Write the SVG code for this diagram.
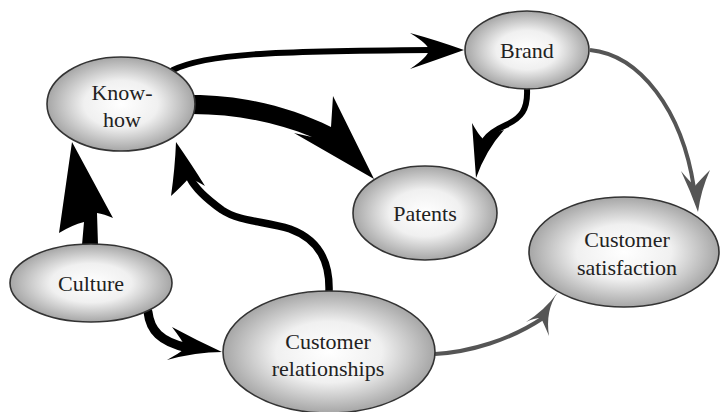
<svg xmlns="http://www.w3.org/2000/svg" width="720" height="412" viewBox="0 0 720 412">
<defs>
<radialGradient id="g" cx="50%" cy="50%" r="50%">
<stop offset="0" stop-color="#ffffff"/>
<stop offset="0.5" stop-color="#f0f0f0"/>
<stop offset="1" stop-color="#a6a6a6"/>
</radialGradient>
<style>
.node{fill:url(#g);stroke:#333;stroke-width:1.6}
.t{font-family:"Liberation Serif","Times New Roman",serif;font-size:22px;fill:#222;text-anchor:middle}
.blk{fill:none;stroke:#000;stroke-linecap:round}
.gry{fill:none;stroke:#555;stroke-width:4}
.bh{fill:#000}
.gh{fill:#555}
</style>
</defs>
<rect width="720" height="412" fill="#fff"/>
<g id="connectors">
<path class="blk" stroke-width="6" d="M173,70 C205,54 270,51 432,50"/>
<path class="bh" d="M464,50 Q436,40 410,33 Q428,44 429,50 Q428,57 410,69 Q436,60 464,50 Z"/>
<path class="bh" d="M192,95 C245,95 292,108 331,127 L333,96 L374,179 L294,133 L312,137 C275,122 235,114 192,114 Z"/>
<path class="blk" stroke-width="6" d="M527,89 C528,110 521,118 506,125 C495,130 489,134 485,140"/>
<path class="bh" d="M476,178 L472,123 Q478,134 483,139 Q492,133 504,130 Q486,150 476,178 Z"/>
<path class="gry" d="M590,50 C640,55 682,110 694,188"/>
<path class="gh" d="M698,212 Q690,190 681,171 Q690,182 695,186 Q700,180 710,170 Q701,190 698,212 Z"/>
<path class="bh" d="M82,245 L84,222 Q72,225 59,233 L72,142 L113,218 Q104,214 97,213 L98,245 Z"/>
<path class="blk" stroke-width="7.5" d="M329,292 C330,262 320,240 290,229 C265,221 240,222 222,210 C208,200 196,190 190,178"/>
<path class="bh" d="M176,142 Q192,165 205,186 Q195,180 189,178 Q182,186 171,196 Q175,168 176,142 Z"/>
<path class="blk" stroke-width="9" d="M148,312 C150,330 160,342 188,348"/>
<path class="bh" d="M222,352 Q196,340 172,327 Q182,340 186,348 Q178,354 167,360 Q196,352 222,352 Z"/>
<path class="gry" d="M435,354 C470,352 510,340 543,318"/>
<path class="gh" d="M558,292 Q545,310 549,336 Q544,324 541,318 Q534,318 526,322 Q545,310 558,292 Z"/>
</g>
<g id="know-how">
<ellipse class="node" cx="121" cy="104" rx="74" ry="47"/>
<text class="t" x="122" y="100">Know-</text>
<text class="t" x="122" y="127">how</text>
</g>
<g id="brand">
<ellipse class="node" cx="527" cy="50" rx="62" ry="39"/>
<text class="t" x="527" y="58">Brand</text>
</g>
<g id="patents">
<ellipse class="node" cx="425" cy="213" rx="72" ry="47"/>
<text class="t" x="425" y="221">Patents</text>
</g>
<g id="culture">
<ellipse class="node" cx="91" cy="283" rx="81" ry="39"/>
<text class="t" x="91" y="291">Culture</text>
</g>
<g id="customer-relationships">
<ellipse class="node" cx="329" cy="352" rx="106" ry="61"/>
<text class="t" x="328" y="349">Customer</text>
<text class="t" x="328" y="376">relationships</text>
</g>
<g id="customer-satisfaction">
<ellipse class="node" cx="624" cy="252" rx="95" ry="55"/>
<text class="t" x="627" y="247">Customer</text>
<text class="t" x="627" y="275">satisfaction</text>
</g>
</svg>
